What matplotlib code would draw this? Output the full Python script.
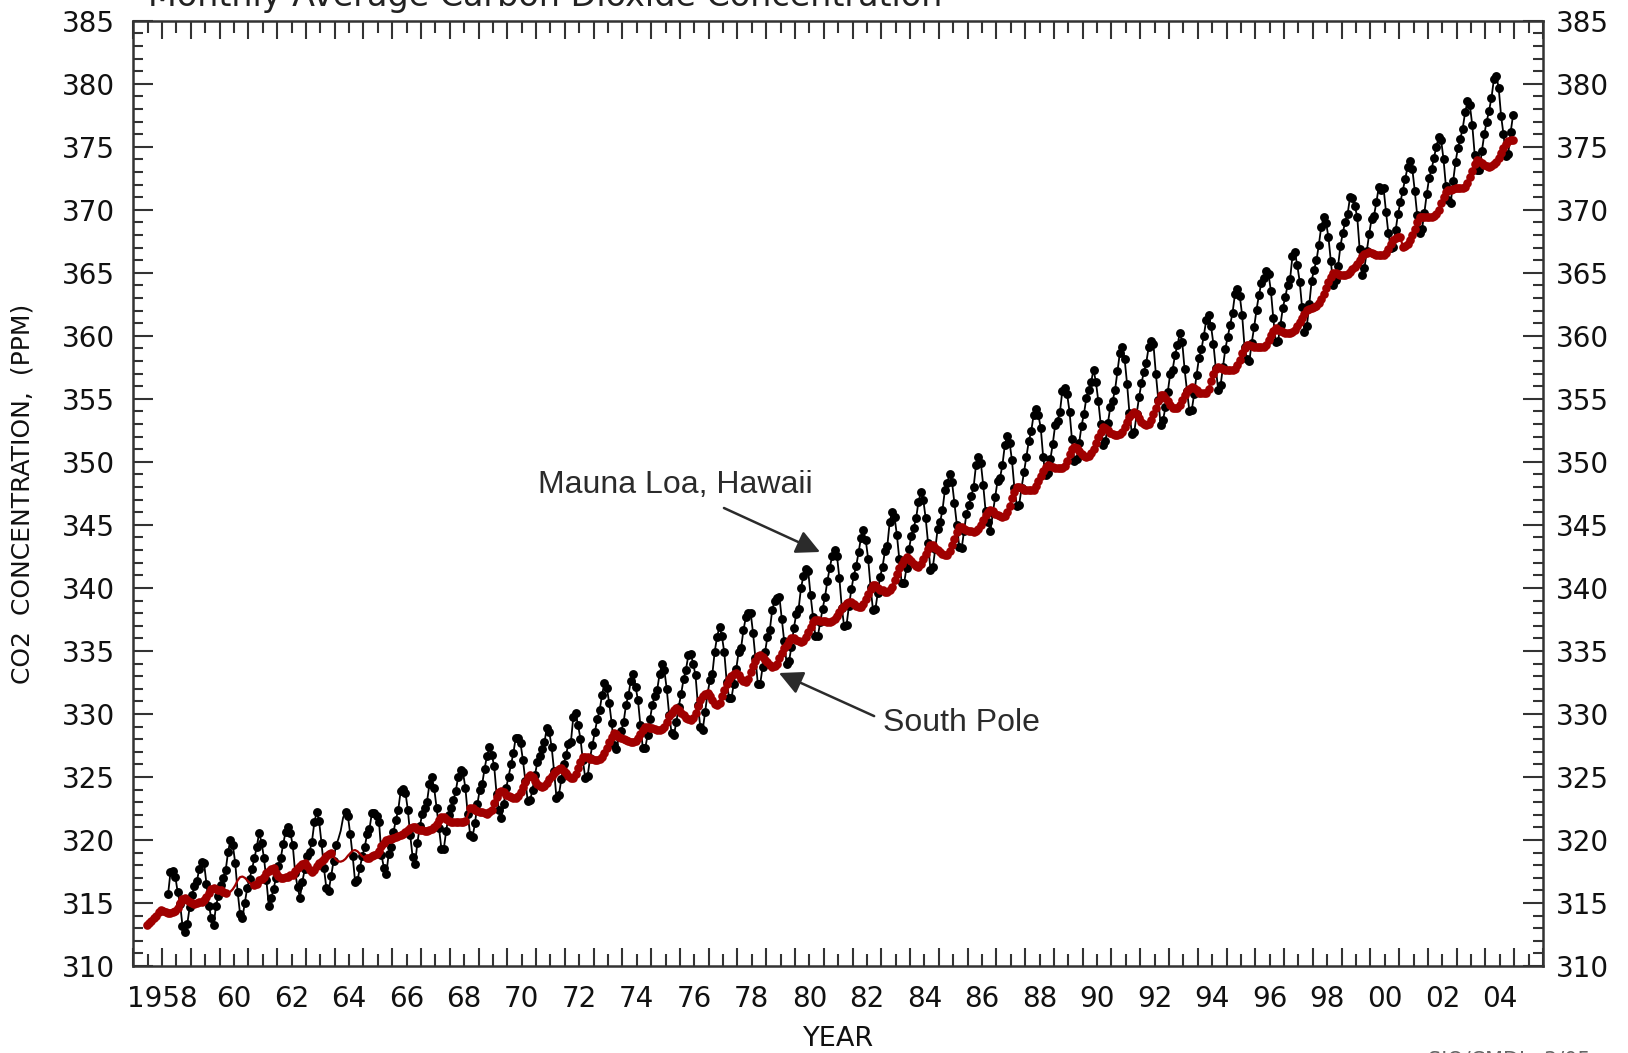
import numpy as np
import matplotlib
matplotlib.use("Agg")
import matplotlib.pyplot as plt
from matplotlib.transforms import ScaledTranslation

# Monthly means (ppm), one row per year, Jan..Dec. None = no record.
ml_years = list(range(1958, 2005))
mauna_loa = [
    [None, None, 315.71, 317.45, 317.50, 317.10, 315.86, 314.93, 313.20, 312.66, 313.33, 314.67],
    [315.62, 316.38, 316.71, 317.72, 318.29, 318.15, 316.54, 314.80, 313.84, 313.26, 314.80, 315.58],
    [316.43, 316.97, 317.58, 319.02, 320.03, 319.59, 318.18, 315.91, 314.16, 313.83, 315.00, 316.19],
    [316.93, 317.70, 318.54, 319.48, 320.58, 319.77, 318.57, 316.79, 314.80, 315.38, 316.10, 317.01],
    [317.94, 318.56, 319.68, 320.63, 321.01, 320.55, 319.58, 317.40, 316.26, 315.42, 316.69, 317.69],
    [318.74, 319.08, 319.86, 321.39, 322.25, 321.47, 319.74, 317.77, 316.21, 315.99, 317.12, 318.31],
    [319.57, 320.07, 320.73, 321.77, 322.25, 321.89, 320.44, 318.70, 316.70, 316.79, 317.79, 318.71],
    [319.44, 320.44, 320.89, 322.13, 322.16, 321.87, 321.39, 318.81, 317.81, 317.30, 318.87, 319.42],
    [320.62, 321.59, 322.39, 323.87, 324.01, 323.75, 322.39, 320.37, 318.64, 318.10, 319.79, 321.08],
    [322.07, 322.50, 323.04, 324.42, 325.00, 324.09, 322.55, 320.92, 319.31, 319.31, 320.72, 321.96],
    [322.57, 323.15, 323.89, 325.02, 325.57, 325.36, 324.14, 322.03, 320.41, 320.25, 321.31, 322.84],
    [324.00, 324.42, 325.64, 326.66, 327.34, 326.76, 325.88, 323.67, 322.38, 321.78, 322.85, 324.11],
    [325.03, 325.99, 326.87, 328.13, 328.07, 327.66, 326.35, 324.69, 323.10, 323.16, 323.98, 325.13],
    [326.17, 326.68, 327.18, 327.78, 328.92, 328.57, 327.34, 325.46, 323.36, 323.57, 324.80, 326.01],
    [326.77, 327.63, 327.75, 329.72, 330.07, 329.09, 328.05, 326.32, 324.93, 325.06, 326.50, 327.55],
    [328.54, 329.56, 330.30, 331.50, 332.48, 332.07, 330.87, 329.31, 327.51, 327.18, 328.16, 328.64],
    [329.35, 330.71, 331.48, 332.65, 333.20, 332.16, 331.07, 329.12, 327.32, 327.28, 328.30, 329.58],
    [330.73, 331.46, 331.90, 333.17, 333.94, 333.45, 331.97, 329.95, 328.50, 328.34, 329.37, 330.58],
    [331.59, 332.75, 333.52, 334.64, 334.77, 334.00, 333.06, 330.68, 328.95, 328.75, 330.15, 331.62],
    [332.66, 333.13, 334.95, 336.13, 336.93, 336.17, 334.88, 332.56, 331.29, 331.27, 332.41, 333.60],
    [334.95, 335.25, 336.66, 337.69, 338.03, 338.01, 336.41, 334.41, 332.37, 332.41, 333.75, 334.90],
    [336.14, 336.69, 338.27, 338.96, 339.21, 339.26, 337.54, 335.75, 333.98, 334.19, 335.31, 336.81],
    [337.90, 338.34, 340.01, 340.93, 341.48, 341.33, 339.40, 337.70, 336.19, 336.15, 337.27, 338.32],
    [339.29, 340.55, 341.61, 342.53, 343.03, 342.54, 340.78, 338.44, 336.95, 337.08, 338.58, 339.88],
    [340.96, 341.73, 342.81, 343.97, 344.63, 343.79, 342.32, 340.09, 338.28, 338.29, 339.60, 340.90],
    [341.68, 342.90, 343.33, 345.25, 346.03, 345.63, 344.19, 342.27, 340.35, 340.38, 341.59, 343.05],
    [344.10, 344.79, 345.52, 346.84, 347.63, 346.98, 345.53, 343.55, 341.40, 341.67, 343.10, 344.70],
    [345.21, 346.16, 347.74, 348.34, 349.06, 348.38, 346.72, 345.02, 343.27, 343.13, 344.49, 345.88],
    [346.56, 347.28, 348.01, 349.77, 350.38, 349.93, 348.16, 346.08, 345.22, 344.51, 345.93, 347.22],
    [348.52, 348.73, 349.73, 351.31, 352.09, 351.53, 350.11, 347.92, 346.52, 346.59, 347.96, 349.16],
    [350.39, 351.64, 352.41, 353.69, 354.21, 353.72, 352.69, 350.40, 348.92, 349.13, 350.20, 351.41],
    [352.91, 353.27, 353.96, 355.64, 355.86, 355.37, 353.99, 351.81, 350.05, 350.25, 351.49, 352.85],
    [353.80, 355.04, 355.73, 356.32, 357.32, 356.34, 354.84, 353.01, 351.31, 351.62, 353.07, 354.33],
    [354.84, 355.73, 357.23, 358.66, 359.13, 358.13, 356.19, 353.85, 352.25, 352.35, 353.81, 355.12],
    [356.25, 357.11, 357.86, 359.09, 359.59, 359.33, 357.01, 354.94, 352.96, 353.32, 354.32, 355.57],
    [357.00, 357.31, 358.47, 359.27, 360.19, 359.52, 357.33, 355.64, 354.03, 354.12, 355.41, 356.91],
    [358.24, 358.92, 359.99, 361.23, 361.65, 360.81, 359.38, 357.46, 355.73, 356.08, 357.53, 358.98],
    [359.92, 360.86, 361.83, 363.30, 363.69, 363.19, 361.64, 359.12, 358.17, 357.99, 359.45, 360.68],
    [362.07, 363.24, 364.17, 364.57, 365.13, 364.92, 363.55, 361.38, 359.54, 359.58, 360.89, 362.24],
    [363.09, 364.03, 364.51, 366.35, 366.64, 365.59, 364.31, 362.25, 360.29, 360.82, 362.49, 364.38],
    [365.26, 365.98, 367.24, 368.66, 369.42, 368.99, 367.82, 365.95, 364.02, 364.40, 365.52, 367.13],
    [368.18, 369.07, 369.68, 370.99, 370.96, 370.30, 369.45, 366.90, 364.81, 365.37, 366.72, 368.10],
    [369.29, 369.54, 370.60, 371.82, 371.58, 371.70, 369.86, 368.13, 367.00, 367.03, 368.37, 369.67],
    [370.59, 371.51, 372.43, 373.37, 373.85, 373.21, 371.51, 369.61, 368.18, 368.45, 369.76, 371.24],
    [372.53, 373.20, 374.12, 375.02, 375.76, 375.52, 374.01, 371.85, 370.75, 370.55, 372.25, 373.79],
    [374.88, 375.64, 376.45, 377.73, 378.60, 378.28, 376.70, 374.38, 373.17, 373.14, 374.66, 375.99],
    [377.00, 377.87, 378.88, 380.35, 380.62, 379.69, 377.47, 376.01, 374.25, 374.46, 376.16, 377.51],
]
# months filled in, drawn as line only (no dot)
ml_gaps = [((1964, 2), (1964, 4))]

sp_years = list(range(1957, 2005))
south_pole = [
    [None, None, None, None, None, 313.25, 313.45, 313.6, 313.8, 314.0, 314.25, 314.45],
    [314.4, 314.3, 314.2, 314.2, 314.3, 314.35, 314.6, 315.0, 315.35, 315.4, 315.25, 315.1],
    [315.0, 314.95, 315.0, 315.05, 315.1, 315.2, 315.5, 315.8, 316.1, 316.2, 316.15, 316.05],
    [316.0, 315.9, 315.8, 315.8, 315.9, 316.1, 316.4, 316.8, 317.05, 317.1, 317.0, 316.8],
    [316.6, 316.45, 316.43, 316.5, 316.8, 316.9, 317.1, 317.35, 317.55, 317.7, 317.75, 317.4],
    [317.15, 316.96, 317.0, 317.05, 317.1, 317.2, 317.25, 317.5, 317.75, 317.95, 318.1, 318.15],
    [317.9, 317.6, 317.48, 317.6, 317.9, 318.15, 318.3, 318.5, 318.7, 318.85, 318.94, 318.7],
    [318.45, 318.3, 318.28, 318.35, 318.5, 318.75, 318.95, 319.15, 319.2, 319.1, 318.9, 318.7],
    [318.6, 318.55, 318.6, 318.7, 318.8, 318.85, 319.1, 319.5, 319.8, 320.0, 320.05, 320.1],
    [320.13, 320.2, 320.3, 320.39, 320.5, 320.65, 320.8, 320.95, 321.05, 321.0, 320.9, 320.8],
    [320.79, 320.75, 320.75, 320.8, 320.85, 321.0, 321.3, 321.6, 321.84, 321.8, 321.65, 321.5],
    [321.45, 321.4, 321.4, 321.45, 321.45, 321.45, 321.5, 322.0, 322.5, 322.5, 322.4, 322.3],
    [322.24, 322.2, 322.15, 322.1, 322.2, 322.4, 322.9, 323.4, 323.8, 323.9, 323.8, 323.6],
    [323.5, 323.4, 323.3, 323.3, 323.5, 323.8, 324.2, 324.6, 325.0, 325.15, 325.0, 324.7],
    [324.45, 324.25, 324.23, 324.3, 324.5, 324.8, 325.1, 325.35, 325.5, 325.6, 325.68, 325.5],
    [325.3, 325.1, 324.95, 324.9, 325.2, 325.7, 326.2, 326.6, 326.6, 326.55, 326.45, 326.4],
    [326.35, 326.34, 326.4, 326.6, 326.9, 327.3, 327.8, 328.2, 328.46, 328.4, 328.2, 328.1],
    [328.0, 327.9, 327.85, 327.8, 327.8, 327.85, 328.1, 328.4, 328.75, 328.99, 328.95, 328.9],
    [328.85, 328.8, 328.75, 328.72, 328.8, 329.0, 329.4, 329.8, 330.1, 330.35, 330.45, 330.3],
    [330.1, 329.9, 329.7, 329.6, 329.52, 329.7, 330.1, 330.6, 331.1, 331.4, 331.6, 331.63],
    [331.4, 331.1, 330.8, 330.7, 330.9, 331.4, 331.9, 332.4, 332.8, 333.0, 333.15, 333.22],
    [333.1, 332.8, 332.6, 332.56, 332.8, 333.3, 333.8, 334.2, 334.6, 334.68, 334.5, 334.3],
    [334.1, 333.9, 333.75, 333.8, 334.0, 334.4, 334.8, 335.2, 335.5, 335.75, 336.0, 336.0],
    [335.9, 335.75, 335.73, 335.8, 336.1, 336.5, 336.9, 337.3, 337.45, 337.45, 337.4, 337.35],
    [337.35, 337.33, 337.32, 337.35, 337.5, 337.8, 338.1, 338.4, 338.6, 338.8, 338.9, 338.85],
    [338.7, 338.6, 338.5, 338.5, 338.7, 339.1, 339.5, 339.9, 340.2, 340.2, 340.0, 339.85],
    [339.8, 339.7, 339.7, 339.8, 340.1, 340.6, 341.1, 341.6, 341.9, 342.2, 342.47, 342.3],
    [342.1, 341.9, 341.75, 341.68, 341.9, 342.3, 342.7, 343.1, 343.4, 343.4, 343.2, 343.0],
    [342.85, 342.7, 342.61, 342.65, 342.9, 343.4, 343.9, 344.4, 344.85, 344.85, 344.7, 344.6],
    [344.55, 344.5, 344.46, 344.5, 344.7, 345.0, 345.4, 345.8, 346.0, 346.18, 346.1, 345.9],
    [345.8, 345.7, 345.65, 345.7, 346.0, 346.5, 347.1, 347.6, 348.03, 348.0, 347.9, 347.8],
    [347.8, 347.78, 347.77, 347.8, 348.1, 348.5, 348.9, 349.3, 349.6, 349.75, 349.7, 349.6],
    [349.55, 349.5, 349.49, 349.5, 349.7, 350.1, 350.6, 351.0, 351.2, 351.1, 350.9, 350.6],
    [350.45, 350.41, 350.5, 350.7, 351.0, 351.5, 352.0, 352.4, 352.79, 352.7, 352.5, 352.3],
    [352.2, 352.15, 352.13, 352.2, 352.4, 352.8, 353.2, 353.6, 353.8, 353.98, 353.8, 353.5],
    [353.2, 353.0, 352.92, 353.0, 353.3, 353.8, 354.3, 354.8, 355.3, 355.3, 355.1, 354.8],
    [354.5, 354.3, 354.25, 354.3, 354.5, 354.9, 355.3, 355.6, 355.8, 355.96, 355.9, 355.7],
    [355.5, 355.45, 355.44, 355.5, 355.8, 356.4, 357.0, 357.4, 357.5, 357.45, 357.35, 357.3],
    [357.3, 357.29, 357.29, 357.4, 357.7, 358.1, 358.6, 359.0, 359.27, 359.27, 359.2, 359.15],
    [359.13, 359.13, 359.13, 359.15, 359.3, 359.7, 360.1, 360.4, 360.59, 360.5, 360.4, 360.3],
    [360.25, 360.2, 360.2, 360.3, 360.5, 360.8, 361.1, 361.4, 361.7, 362.05, 362.1, 362.2],
    [362.3, 362.4, 362.6, 362.9, 363.3, 363.8, 364.3, 364.7, 364.96, 364.95, 364.9, 364.85],
    [364.82, 364.85, 364.9, 365.1, 365.3, 365.48, 365.7, 366.0, 366.3, 366.5, 366.6, 366.67],
    [366.6, 366.5, 366.45, 366.41, 366.41, 366.45, 366.6, 366.9, 367.3, 367.6, 367.8, 367.86],
    [367.86, 367.07, 367.1, 367.3, 367.6, 368.0, 368.5, 369.0, 369.45, 369.45, 369.45, 369.45],
    [369.45, 369.45, 369.5, 369.7, 370.0, 370.5, 371.0, 371.4, 371.57, 371.6, 371.65, 371.7],
    [371.7, 371.7, 371.7, 371.8, 372.1, 372.6, 373.1, 373.6, 373.95, 373.9, 373.7, 373.55],
    [373.45, 373.42, 373.45, 373.6, 373.8, 374.1, 374.5, 374.9, 375.2, 375.45, 375.53, 375.5],
]
sp_gaps = [((1960, 4), (1961, 2)), ((1963, 12), (1965, 1)), ((1968, 8), (1968, 8))]

x_labels = ["1958"] + ["%02d" % (y % 100) for y in range(1960, 2005, 2)]
x_label_pos = [1958.5] + [y + 0.5 for y in range(1960, 2005, 2)]
y_ticks = list(range(310, 386, 5))


def monthly(years, rows, gaps):
    x, v, dot = [], [], []
    for y, row in zip(years, rows):
        for m, val in enumerate(row, start=1):
            if val is None:
                continue
            x.append(y + (m - 0.5) / 12)
            v.append(val)
            dot.append(not any(a <= (y, m) <= b for a, b in gaps))
    return np.array(x), np.array(v), np.array(dot)


def main():
    fig = plt.figure(figsize=(16.28, 10.53), dpi=100)
    ax = fig.add_axes([0.0819, 0.0826, 0.8659, 0.8977])

    mx, mv, md = monthly(ml_years, mauna_loa, ml_gaps)
    sx, sv, sd = monthly(sp_years, south_pole, sp_gaps)

    ax.plot(mx, mv, color="black", lw=1.3, zorder=2)
    ax.plot(mx[md], mv[md], "o", color="black", ms=6.4, mew=0, zorder=3)
    red = "#a00000"
    ax.plot(sx, sv, color=red, lw=1.6, zorder=4)
    ax.plot(sx[sd], sv[sd], "o", color=red, ms=6.2, mew=0, zorder=5)

    ax.set_xlim(1957, 2006)
    ax.set_ylim(310, 385)

    spine_c = "#333333"
    for s in ax.spines.values():
        s.set_color(spine_c)
        s.set_linewidth(1.8)

    ax.set_xticks(range(1957, 2007))
    ax.set_xticks(np.arange(1957.5, 2006, 1.0), minor=True)
    ax.set_xticklabels([])
    ax.set_yticks(y_ticks)
    ax.set_yticks(range(310, 386), minor=True)

    ax.tick_params(which="both", direction="in", top=True, right=True,
                   color=spine_c, width=1.5, labelsize=20, labelcolor="#111111")
    ax.xaxis.set_tick_params(which="major", length=13)
    ax.xaxis.set_tick_params(which="minor", length=8.5)
    ax.yaxis.set_tick_params(which="major", length=14.5, pad=13)
    ax.yaxis.set_tick_params(which="minor", length=7.2)

    # year labels sit in the middle of each year
    lab = ax.secondary_xaxis("bottom")
    lab.set_xticks(x_label_pos, labels=x_labels)
    lab.tick_params(length=0, pad=14, labelsize=20, labelcolor="#111111")
    lab.spines["bottom"].set_visible(False)
    first = lab.get_xticklabels()[0]
    first.set_transform(first.get_transform() +
                        ScaledTranslation(-0.145, 0, fig.dpi_scale_trans))

    rlab = ax.secondary_yaxis("right")
    rlab.set_yticks(y_ticks)
    rlab.tick_params(length=0, pad=9, labelsize=20, labelcolor="#111111")
    rlab.spines["right"].set_visible(False)

    ax.set_xlabel("YEAR", fontsize=19.5, labelpad=40, color="#111111")
    ax.set_ylabel("CO2  CONCENTRATION,  (PPM)", fontsize=18, labelpad=20, color="#111111")

    # title and credit line are cut by the page edge, as in the original
    fig.text(0.0909, 1 - 6 / 1053, "Monthly Average Carbon Dioxide Concentration",
             fontsize=24, color="#222222", va="baseline", ha="left")
    fig.text(0.877, 1 - 1050 / 1053, "SIO/CMDL  3/05", fontsize=15,
             color="#666666", va="top", ha="left")

    txt_c = "#2b2b2b"
    arrow = dict(arrowstyle="-|>", color=txt_c, lw=1.8, mutation_scale=36,
                 shrinkA=0, shrinkB=0)
    ax.annotate("", xy=(1980.87, 342.85), xytext=(1977.53, 346.34), arrowprops=arrow)
    ax.annotate("", xy=(1979.44, 333.25), xytext=(1982.75, 329.83), arrowprops=arrow)
    ax.text(1971.07, 347.53, "Mauna Loa, Hawaii", family="Liberation Sans",
            fontsize=23, color=txt_c, va="baseline")
    ax.text(1983.06, 328.64, "South Pole", family="Liberation Sans",
            fontsize=23, color=txt_c, va="baseline")

    fig.savefig("out.png", dpi=100)
    plt.close(fig)


if __name__ == "__main__":
    main()
